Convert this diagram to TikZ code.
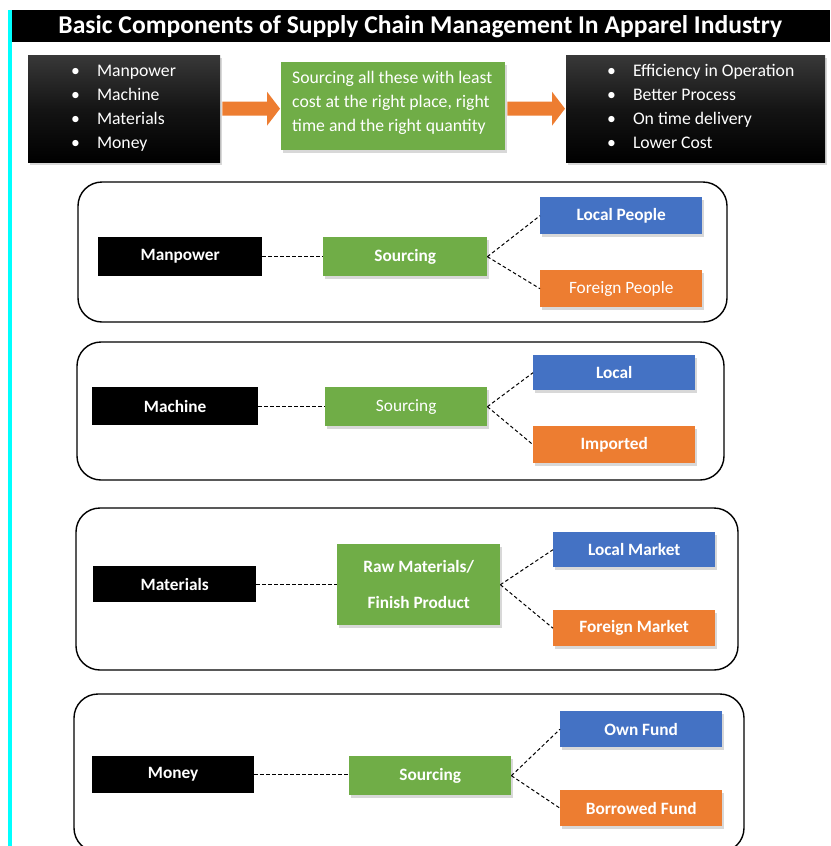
\documentclass[tikz,border=0pt]{standalone}
\usepackage{fontspec}
\setmainfont{Carlito}
\usetikzlibrary{calc,shadows}
\definecolor{cgreen}{HTML}{70AD47}
\definecolor{cblue}{HTML}{4472C4}
\definecolor{corange}{HTML}{ED7D31}
\definecolor{cbar}{HTML}{00FFFF}
\tikzset{
  base/.style={draw=none, inner sep=0pt, anchor=north west, text=white,
    font=\fontsize{17.3}{20}\selectfont\bfseries},
  shad/.style={drop shadow={opacity=0.3, shadow xshift=1.5pt, shadow yshift=-2.5pt}},
  blk/.style={base, fill=black},
  grnbox/.style={base, fill=cgreen, shad},
  blubox/.style={base, fill=cblue, shad},
  orgbox/.style={base, fill=corange, shad},
  topblk/.style={inner sep=0pt, anchor=north west, top color=black!78, bottom color=black, middle color=black!92, shad},
  topgrn/.style={inner sep=0pt, anchor=north west, fill=cgreen, shad},
  panel/.style={draw=black, line width=1.4pt, rounded corners=24pt},
  link/.style={draw=black, line width=1pt, dash pattern=on 3.5pt off 2.5pt},
  blockarrow/.style={fill=corange},
  toptext/.style={text=white, font=\fontsize{17.7}{24}\selectfont, align=left, inner sep=0pt, anchor=west},
}
\newcommand\bx[7]{\node[#1, minimum width=#5pt, minimum height=#6pt] (#2) at (#3,#4) {#7};}
\begin{document}
\begin{tikzpicture}[x=1pt,y=-1pt]
\useasboundingbox (0,0) rectangle (830,846);
\clip (0,0) rectangle (830,846);
\fill[white] (0,0) rectangle (830,846);
% left cyan bar and title
\fill[cbar] (8,10) rectangle (12,846);
\node[fill=black, minimum width=818pt, minimum height=32pt, inner sep=0pt, anchor=north west] (title) at (12,10) {};
\node[text=white, font=\fontsize{25.6}{28}\selectfont\bfseries, inner sep=0pt] at ($(title.center)+(-1,0)$) {Basic Components of Supply Chain Management In Apparel Industry};
% top row
\bx{topblk}{lb}{28}{55}{192}{107}{}
\bx{topgrn}{gb}{281}{62}{224}{88}{}
\bx{topblk}{rb}{566}{55}{259}{107}{}
\node[toptext] at ($(lb.west)+(43,-1)$) {\begin{tabular}{@{}l@{\hspace{17pt}}l@{}}\textbullet & Manpower\\ \textbullet & Machine\\ \textbullet & Materials\\ \textbullet & Money\end{tabular}};
\node[toptext] at ($(gb.west)+(11,-3)$) {Sourcing all these with least\\cost at the right place, right\\time and the right quantity};
\node[toptext] at ($(rb.west)+(41,-1)$) {\begin{tabular}{@{}l@{\hspace{17pt}}l@{}}\textbullet & Efficiency in Operation\\ \textbullet & Better Process\\ \textbullet & On time delivery\\ \textbullet & Lower Cost\end{tabular}};
% block arrows
\fill[blockarrow] ($(lb.east)+(2,-7)$) -- ($(gb.west|-lb.east)+(-14,-7)$) -- ++(0,-10) -- ($(gb.west|-lb.east)+(-1,0)$) -- ($(gb.west|-lb.east)+(-14,17)$) -- ++(0,-10) -- ($(lb.east)+(2,7)$) -- cycle;
\fill[blockarrow] ($(gb.east|-lb.east)+(2,-7)$) -- ($(rb.west)+(-14,-7)$) -- ++(0,-10) -- ($(rb.west)+(-1,0)$) -- ($(rb.west)+(-14,17)$) -- ++(0,-10) -- ($(gb.east|-lb.east)+(2,7)$) -- cycle;
% panel 1
\draw[panel] (78,182) rectangle (727,322);
\bx{blk}{m1}{98}{237}{164}{39}{Manpower}
\bx{grnbox}{s1}{323}{237}{164}{39}{Sourcing}
\bx{blubox}{l1}{540}{197}{162}{37}{Local People}
\bx{orgbox}{f1}{540}{270}{162}{37}{\mdseries Foreign People}
\draw[link] (m1.east) -- (s1.west);
\draw[link] (s1.east) -- (l1.west);
\draw[link] (s1.east) -- (f1.west);
% panel 2
\draw[panel] (77,342) rectangle (724,480);
\bx{blk}{m2}{92}{387}{166}{38}{Machine}
\bx{grnbox}{s2}{325}{387}{162}{39}{\mdseries Sourcing}
\bx{blubox}{l2}{533}{355}{162}{35}{Local}
\bx{orgbox}{f2}{533}{426}{162}{37}{Imported}
\draw[link] (m2.east) -- (m2.east -| s2.west);
\draw[link] (s2.east) -- (l2.west);
\draw[link] (s2.east) -- (f2.west);
% panel 3
\draw[panel] (76,508) rectangle (738,670);
\bx{blk}{m3}{93}{566}{163}{36}{Materials}
\node[grnbox, minimum width=163pt, minimum height=81pt, align=center, font=\fontsize{17.3}{36}\selectfont\bfseries] (s3) at (337,544) {Raw Materials/\\Finish Product};
\bx{blubox}{l3}{553}{532}{162}{35}{Local Market}
\bx{orgbox}{f3}{553}{610}{162}{36}{Foreign Market}
\draw[link] (m3.east) -- (m3.east -| s3.west);
\draw[link] (s3.east) -- (l3.west);
\draw[link] (s3.east) -- (f3.west);
% panel 4
\draw[panel] (74,694) rectangle (744,852);
\bx{blk}{m4}{92}{756}{162}{37}{Money}
\bx{grnbox}{s4}{349}{756}{162}{39}{Sourcing}
\bx{blubox}{l4}{560}{711}{162}{36}{Own Fund}
\bx{orgbox}{f4}{560}{790}{162}{36}{Borrowed Fund}
\draw[link] (m4.east) -- (m4.east -| s4.west);
\draw[link] (s4.east) -- (l4.west);
\draw[link] (s4.east) -- (f4.west);
\end{tikzpicture}
\end{document}
